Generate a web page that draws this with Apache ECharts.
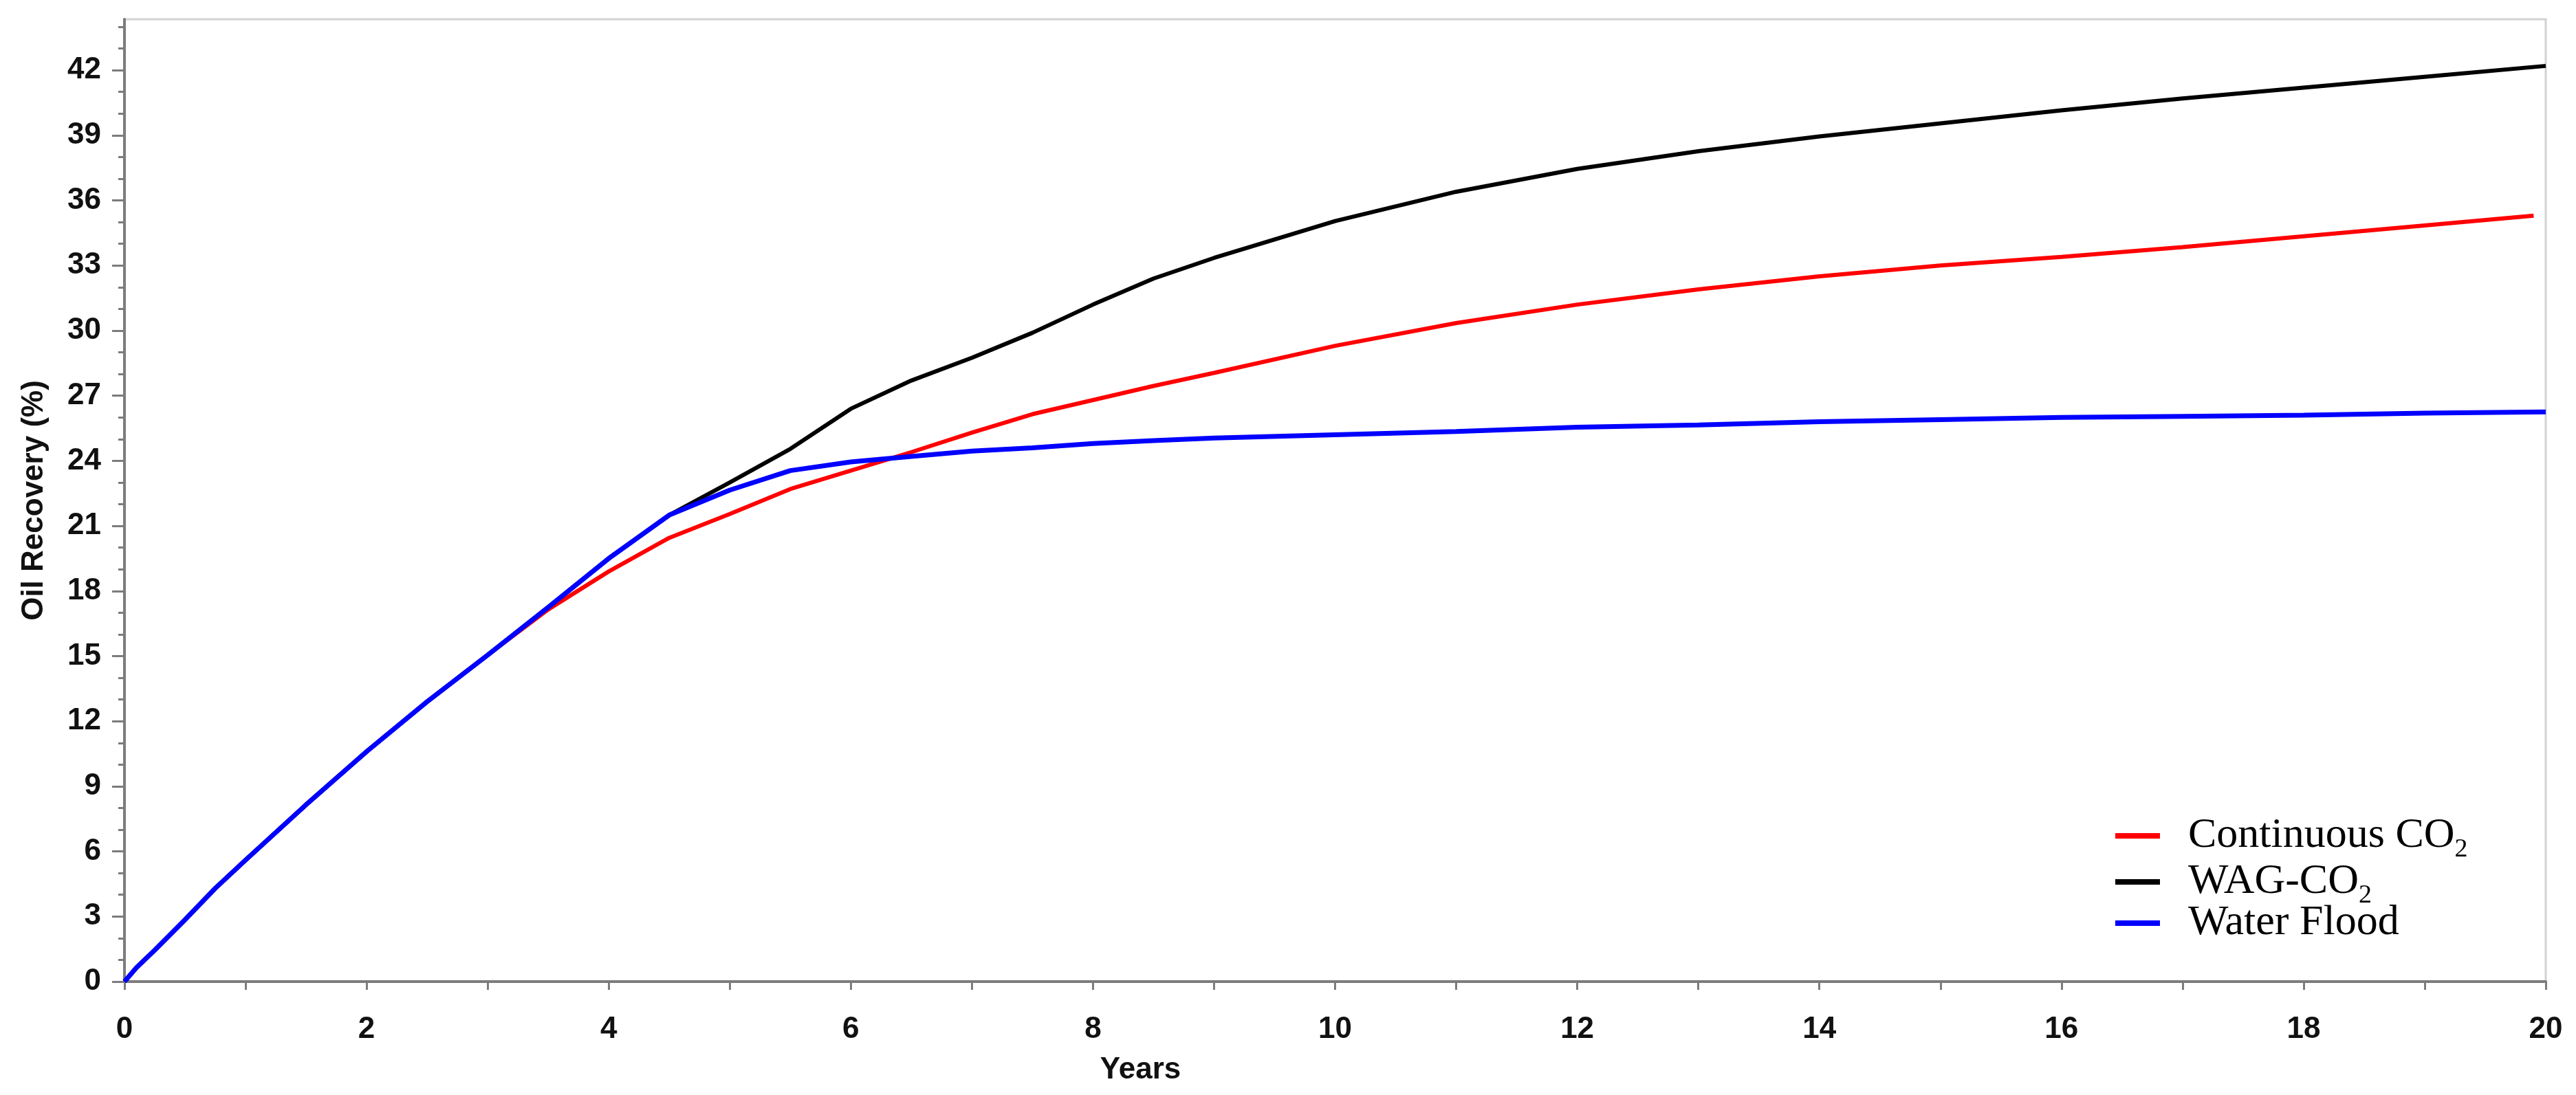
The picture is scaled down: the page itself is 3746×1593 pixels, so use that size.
<!DOCTYPE html>
<html>
<head>
<meta charset="utf-8">
<script src="https://cdn.jsdelivr.net/npm/echarts@6/dist/echarts.min.js"></script>
<style>
html,body{margin:0;padding:0;background:#fff;}
#chart{width:3746px;height:1593px;}
</style>
</head>
<body>
<div id="chart"></div>
<script>
// ---- data ----
const years = [0, 0.1, 0.25, 0.5, 0.75, 1, 1.5, 2, 2.5, 3, 3.5, 4, 4.5, 5, 5.5, 6, 6.5, 7, 7.5, 8, 8.5, 9, 10, 11, 12, 13, 14, 15, 16, 17, 18, 19, 20];
const yearsContinuous = [0, 0.1, 0.25, 0.5, 0.75, 1, 1.5, 2, 2.5, 3, 3.5, 4, 4.5, 5, 5.5, 6, 6.5, 7, 7.5, 8, 8.5, 9, 10, 11, 12, 13, 14, 15, 16, 17, 18, 19, 19.9];
const continuousCO2 = [0, 0.65, 1.45, 2.85, 4.3, 5.6, 8.15, 10.6, 12.9, 15.05, 17.15, 18.9, 20.45, 21.55, 22.7, 23.55, 24.4, 25.3, 26.15, 26.8, 27.45, 28.05, 29.3, 30.35, 31.2, 31.9, 32.5, 33.0, 33.4, 33.85, 34.35, 34.85, 35.3];
const wagCO2 = [0, 0.65, 1.45, 2.85, 4.3, 5.6, 8.15, 10.6, 12.9, 15.05, 17.25, 19.5, 21.5, 23.0, 24.55, 26.4, 27.7, 28.75, 29.9, 31.2, 32.4, 33.35, 35.05, 36.4, 37.45, 38.27, 38.95, 39.55, 40.15, 40.7, 41.2, 41.7, 42.2];
const waterFlood = [0, 0.65, 1.45, 2.85, 4.3, 5.6, 8.15, 10.6, 12.9, 15.05, 17.25, 19.5, 21.5, 22.65, 23.55, 23.95, 24.2, 24.45, 24.6, 24.8, 24.93, 25.05, 25.2, 25.35, 25.55, 25.65, 25.8, 25.9, 26.0, 26.05, 26.1, 26.2, 26.25];
const seriesNames = ['Continuous CO2', 'WAG-CO2', 'Water Flood'];
const yMajorTicks = [0, 3, 6, 9, 12, 15, 18, 21, 24, 27, 30, 33, 36, 39, 42];
const yMinorTicks = [0,1,2,3,4,5,6,7,8,9,10,11,12,13,14,15,16,17,18,19,20,21,22,23,24,25,26,27,28,29,30,31,32,33,34,35,36,37,38,39,40,41,42,43,44];

const pairs = (xs, ys) => xs.map((x, i) => [x, ys[i]]);
const axisGray = '#7c7c7c';
const sans = 'Liberation Sans, Arial, sans-serif';
const serif = 'Liberation Serif, Times New Roman, serif';

const chart = echarts.init(document.getElementById('chart'), null, {renderer: 'canvas'});
chart.setOption({
  animation: false,
  backgroundColor: '#ffffff',
  grid: {left: 181, right: 44, top: 28, bottom: 165, show: true, borderColor: '#d2d2d2', borderWidth: 3},
  xAxis: {
    type: 'value', min: 0, max: 20, interval: 2,
    name: 'Years', nameLocation: 'middle', nameGap: 107,
    nameTextStyle: {fontFamily: sans, fontWeight: 'bold', fontSize: 44, color: '#111', padding: [0, 566, 0, 0]},
    axisLine: {show: true, onZero: false, lineStyle: {color: axisGray, width: 4}},
    axisTick: {show: true, length: 12, lineStyle: {color: axisGray, width: 3}},
    minorTick: {show: true, splitNumber: 2, length: 12, lineStyle: {color: axisGray, width: 3}},
    axisLabel: {fontFamily: sans, fontWeight: 'bold', fontSize: 44, color: '#111', margin: 48},
    splitLine: {show: false}, minorSplitLine: {show: false}
  },
  yAxis: [{
    type: 'value', min: 0, max: 44.35, position: 'left',
    name: 'Oil Recovery (%)', nameLocation: 'middle', nameGap: 109,
    nameTextStyle: {fontFamily: sans, fontWeight: 'bold', fontSize: 44, color: '#111'},
    axisLine: {show: true, onZero: false, lineStyle: {color: axisGray, width: 4}},
    axisTick: {show: true, length: 18, customValues: yMajorTicks, lineStyle: {color: axisGray, width: 3}},
    axisLabel: {customValues: yMajorTicks, fontFamily: sans, fontWeight: 'bold', fontSize: 44, color: '#111', margin: 34},
    splitLine: {show: false}
  }, {
    type: 'value', min: 0, max: 44.35, position: 'left',
    axisLine: {show: false},
    axisTick: {show: true, length: 9, customValues: yMinorTicks, lineStyle: {color: axisGray, width: 3}},
    axisLabel: {show: false},
    splitLine: {show: false}
  }],
  legend: {
    orient: 'vertical', left: 3071, top: 1172, itemGap: -11,
    icon: 'rect', itemWidth: 65, itemHeight: 8,
    data: seriesNames,
    formatter: n => n.replace('CO2', 'CO{sub|2}'),
    textStyle: {
      fontFamily: serif, fontSize: 62, color: '#000', lineHeight: 64, padding: [0, 0, 0, 36],
      rich: {sub: {fontFamily: serif, fontSize: 38, color: '#000', lineHeight: 20, padding: [40, 0, 0, 0]}}
    }
  },
  series: [
    {name: seriesNames[0], type: 'line', data: pairs(yearsContinuous, continuousCO2), showSymbol: false, smooth: false, color: '#ff0000', lineStyle: {color: '#ff0000', width: 6}},
    {name: seriesNames[1], type: 'line', data: pairs(years, wagCO2), showSymbol: false, smooth: false, color: '#000000', lineStyle: {color: '#000000', width: 6}},
    {name: seriesNames[2], type: 'line', data: pairs(years, waterFlood), showSymbol: false, smooth: false, color: '#0000ff', lineStyle: {color: '#0000ff', width: 7}}
  ]
});
</script>
</body>
</html>
